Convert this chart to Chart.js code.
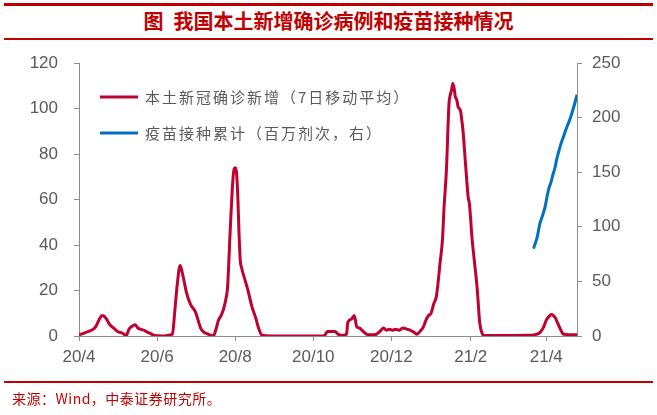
<!DOCTYPE html>
<html>
<head>
<meta charset="utf-8">
<script src="https://cdn.jsdelivr.net/npm/chart.js@4.4.1/dist/chart.umd.min.js"></script>
<style>
    html, body { margin: 0; padding: 0; background: #fff; }
    #wrap { position: relative; width: 657px; height: 415px; overflow: hidden; }
    #chart { position: absolute; left: 0; top: 0; }
    .rule { position: absolute; left: 4px; width: 649px; background: #c00000; }
    #title {
        position: absolute; top: 8px; left: 0; width: 657px; text-align: center;
        font: bold 20px "Noto Sans CJK SC", sans-serif; color: #c00000; line-height: 26px;
    }
    #title span { margin-right: 10px; }
    #source {
        position: absolute; top: 389px; left: 12px;
        font: 14px "Noto Sans CJK SC", sans-serif; color: #c00000; line-height: 18px;
        letter-spacing: 0.5px;
    }
</style>
</head>
<body>
<div id="wrap">
    <div class="rule" style="top:3px;height:3px"></div>
    <div id="title"><span>图</span>我国本土新增确诊病例和疫苗接种情况</div>
    <div class="rule" style="top:38px;height:1.5px"></div>
    <canvas id="chart" width="657" height="415"></canvas>
    <div class="rule" style="top:381px;height:1.5px"></div>
    <div id="source">来源：Wind，中泰证券研究所。</div>
</div>
<script>
// days counted from 2020-04-01
const tickDays = [0, 61, 122, 183, 244, 306, 365];
const tickLabels = ['20/4', '20/6', '20/8', '20/10', '20/12', '21/2', '21/4'];

// local new confirmed cases, 7-day moving average (left axis)
const caseDays = [
    0, 5, 10, 13, 16, 18, 20, 22, 24, 26, 28, 30, 33, 37, 39, 42, 44, 46, 48, 51,
    53, 56, 59, 65, 70, 73, 75, 77, 79, 81, 84, 87, 91, 93, 95, 98, 100, 103, 105, 107,
    109, 111, 113, 115, 116, 118, 120, 121, 122, 123, 124, 125, 126, 127, 130, 132, 135, 138, 140, 143,
    150, 190, 192, 194, 200, 202, 204, 207, 209, 210, 213, 215, 217, 219, 222, 226, 231, 235, 238, 240,
    242, 245, 247, 250, 253, 256, 259, 262, 264, 267, 269, 271, 273, 275, 277, 279, 280, 282, 284, 285,
    287, 289, 290, 291, 292, 293, 294, 295, 296, 297, 298, 299, 300, 302, 304, 305, 307, 309, 311, 313,
    315, 316, 330, 350, 355, 360, 363, 365, 367, 369, 372, 374, 376, 378, 380, 385, 389
];
const caseValues = [
    0.5, 1.5, 2.6, 4, 7.5, 9, 8.5, 7, 5, 4, 3, 2, 1.5, 0.3, 3, 4.5, 5, 3.5, 3, 2.5,
    1.8, 1, 0.2, 0, 0.3, 1, 12, 24, 31, 27, 19, 14, 10.5, 7, 3.5, 1.5, 1, 0.3, 0, 3,
    7, 9, 12, 17, 21, 45, 67, 73, 74, 72, 62, 45, 33, 30, 24, 20, 13, 8, 4, 0.3,
    0, 0, 0.3, 2, 2, 1, 0.3, 0.3, 1, 6, 7.5, 9, 4, 3.5, 2, 0.5, 0.5, 2, 3.5, 2.5,
    3, 2.5, 3, 2.5, 3.5, 3, 2.5, 1.5, 0.8, 2.5, 4, 7, 9, 10, 14, 17, 21, 32, 43, 55,
    73, 102, 106, 108, 111, 109, 105, 104, 101, 100, 99, 95, 90, 75, 61, 58, 43, 32, 21, 6,
    1, 0.3, 0.2, 0.3, 0.5, 1.5, 4, 7, 8.5, 9.5, 8, 5.5, 3, 1, 0.7, 0.5, 0.5
];

// cumulative vaccine doses, millions (right axis)
const vaccineDays = [355, 357, 358, 360, 362, 364, 366, 367, 369, 370, 372, 373, 375, 377, 378, 380, 381, 383, 385, 387, 389];
const vaccineValues = [80, 87, 91, 103, 110, 118, 130, 135, 142, 147, 155, 161, 170, 178, 181, 188, 191, 197, 204, 212, 221];

const axisColor = '#8c8c8c';
const tickFont = { family: '"Liberation Sans", Arial, sans-serif', size: 17 };
const tickColor = '#595959';

const toPoints = (xs, ys) => xs.map((x, i) => ({ x, y: ys[i] }));

// legend drawn inside the plot, upper left, like the original
const insideLegend = {
    id: 'insideLegend',
    afterDraw(chart) {
        const { ctx, chartArea } = chart;
        ctx.save();
        ctx.font = '15px "Noto Sans CJK SC", sans-serif';
        ctx.letterSpacing = '2px';
        ctx.textBaseline = 'middle';
        ctx.fillStyle = tickColor;
        chart.data.datasets.forEach((ds, i) => {
            const y = chartArea.top + 34 + i * 36;
            const x = chartArea.left + 21;
            ctx.strokeStyle = ds.borderColor;
            ctx.lineWidth = ds.borderWidth;
            ctx.beginPath();
            ctx.moveTo(x, y);
            ctx.lineTo(x + 38, y);
            ctx.stroke();
            ctx.fillText(ds.label, x + 45, y);
        });
        ctx.restore();
    }
};

const ctx = document.getElementById('chart').getContext('2d');

new Chart(ctx, {
    type: 'line',
    data: {
        datasets: [
            {
                label: '本土新冠确诊新增（7日移动平均）',
                data: toPoints(caseDays, caseValues),
                borderColor: '#c0002f',
                backgroundColor: '#c0002f',
                borderWidth: 3,
                pointRadius: 0,
                cubicInterpolationMode: 'monotone',
                yAxisID: 'y'
            },
            {
                label: '疫苗接种累计（百万剂次，右）',
                data: toPoints(vaccineDays, vaccineValues),
                borderColor: '#0070c0',
                backgroundColor: '#0070c0',
                borderWidth: 3,
                pointRadius: 0,
                cubicInterpolationMode: 'monotone',
                yAxisID: 'y1'
            }
        ]
    },
    options: {
        responsive: false,
        animation: false,
        layout: {
            padding: { top: 63, left: 0, right: 0, bottom: 0 }
        },
        plugins: {
            legend: { display: false },
            tooltip: { enabled: false }
        },
        scales: {
            x: {
                type: 'linear',
                min: 0,
                max: 389,
                afterBuildTicks: (scale) => {
                    scale.ticks = tickDays.map(v => ({ value: v }));
                },
                afterFit: (scale) => { scale.height = 79; },
                ticks: {
                    autoSkip: false,
                    maxRotation: 0,
                    padding: 6,
                    color: tickColor,
                    font: tickFont,
                    callback: (v) => tickLabels[tickDays.indexOf(v)]
                },
                grid: { drawOnChartArea: false, drawTicks: true, tickLength: 5, color: axisColor },
                border: { color: axisColor, width: 1 }
            },
            y: {
                position: 'left',
                min: 0,
                max: 120,
                afterFit: (scale) => { scale.width = 79; },
                ticks: { stepSize: 20, padding: 16, color: tickColor, font: tickFont },
                grid: { drawOnChartArea: false, drawTicks: true, tickLength: 5, color: axisColor },
                border: { color: axisColor, width: 1 }
            },
            y1: {
                position: 'right',
                min: 0,
                max: 250,
                afterFit: (scale) => { scale.width = 80; },
                ticks: { stepSize: 50, padding: 10, color: tickColor, font: tickFont },
                grid: { drawOnChartArea: false, drawTicks: true, tickLength: 5, color: axisColor },
                border: { color: axisColor, width: 1 }
            }
        }
    },
    plugins: [insideLegend]
});
</script>
</body>
</html>
